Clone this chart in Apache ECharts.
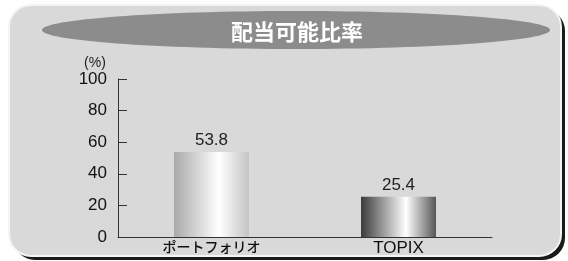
<!DOCTYPE html>
<html>
<head>
<meta charset="utf-8">
<script src="https://cdn.jsdelivr.net/npm/echarts@6/dist/echarts.min.js"></script>
<style>
  html, body { margin: 0; padding: 0; background: #fff; }
  #chart { width: 568px; height: 261px; }
</style>
</head>
<body>
<div id="chart"></div>
<script>
var categories = ['ポートフォリオ', 'TOPIX'];
var values = [53.8, 25.4];
var yTicks = [0, 20, 40, 60, 80, 100];

// 棒の色（左→ハイライト→右）
var barColors = [
  ['#a9a9a9', '#ffffff', '#c4c4c4'],
  ['#3a3a3a', '#ffffff', '#555555']
];

function barGradient(c) {
  return new echarts.graphic.LinearGradient(0, 0, 1, 0, [
    { offset: 0, color: c[0] },
    { offset: 0.6, color: c[1] },
    { offset: 1, color: c[2] }
  ]);
}

var chart = echarts.init(document.getElementById('chart'));
chart.setOption({
  animation: false,
  graphic: [
    // パネルの影
    { type: 'rect', z: -10, shape: { x: 13, y: 9, width: 552, height: 251, r: 22 }, style: { fill: '#1a1a1a' } },
    { type: 'rect', z: -9, shape: { x: 9, y: 5, width: 552, height: 251, r: 22 }, style: { fill: '#d9d9d9', stroke: '#f4f4f4', lineWidth: 2 } },
    // タイトルの楕円
    { type: 'ellipse', z: -8, shape: { cx: 296, cy: 30, rx: 254, ry: 19 }, style: { fill: '#8c8c8c' } },
    { type: 'text', z: 10, style: { x: 297, y: 32, text: '配当可能比率', fill: '#ffffff', font: 'bold 22px "Noto Sans CJK JP"', align: 'center', verticalAlign: 'middle' } },
    { type: 'text', z: 10, style: { x: 95, y: 63, text: '(%)', fill: '#222', font: '14px "Liberation Sans"', align: 'center', verticalAlign: 'middle' } }
  ],
  grid: { left: 118, top: 79, right: 76, bottom: 24, containLabel: false },
  xAxis: {
    type: 'category',
    data: categories,
    axisLine: { lineStyle: { color: '#333', width: 1 } },
    axisTick: { show: false },
    axisLabel: {
      margin: 3,
      color: '#111',
      formatter: function (v) { return v === 'TOPIX' ? '{t|' + v + '}' : '{j|' + v + '}'; },
      rich: {
        j: { fontFamily: 'Noto Sans CJK JP', fontSize: 14, fontWeight: 500, color: '#111' },
        t: { fontFamily: 'Liberation Sans', fontSize: 17, color: '#111' }
      }
    }
  },
  yAxis: {
    type: 'value',
    min: yTicks[0],
    max: yTicks[yTicks.length - 1],
    interval: 20,
    splitLine: { show: false },
    axisLine: { show: true, lineStyle: { color: '#333', width: 1 } },
    axisTick: { show: true, inside: true, length: 9, lineStyle: { color: '#333' } },
    axisLabel: { margin: 11, color: '#111', fontFamily: 'Liberation Sans', fontSize: 17 }
  },
  series: [{
    type: 'bar',
    barWidth: 75,
    data: values.map(function (v, i) {
      return { value: v, itemStyle: { color: barGradient(barColors[i]) } };
    }),
    label: {
      show: true,
      position: 'top',
      distance: 3,
      color: '#222',
      fontFamily: 'Liberation Sans',
      fontSize: 17
    }
  }]
});
</script>
</body>
</html>
